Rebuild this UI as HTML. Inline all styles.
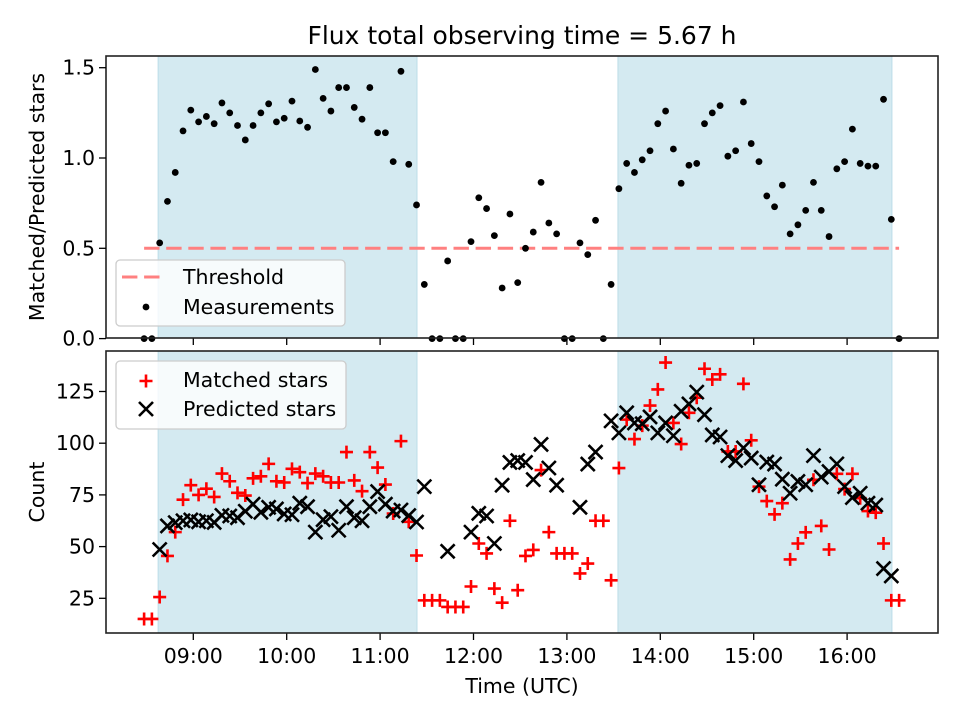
<!DOCTYPE html>
<html><head><meta charset="utf-8"><style>
html,body{margin:0;padding:0;background:#fff}
svg{display:block;font-family:"DejaVu Sans","Liberation Sans",sans-serif}
</style></head><body>
<svg id="chart" width="960" height="720" viewBox="0 0 960 720">
<text x="522" y="44" font-size="25" text-anchor="middle">Flux total observing time = 5.67 h</text>
<g id="top"></g>
<g id="bot"></g>
<text x="522" y="693" font-size="20.5" text-anchor="middle">Time (UTC)</text>
<text transform="translate(44,197) rotate(-90)" font-size="20.5" text-anchor="middle">Matched/Predicted stars</text>
<text transform="translate(44,492) rotate(-90)" font-size="20.5" text-anchor="middle">Count</text>
</svg>
<script>
const startMinute = 508.4;
const cadenceMinutes = 5;
const ratio = [0,0,.53,.76,.92,1.15,1.265,1.20,1.23,1.19,1.305,1.25,1.18,1.10,1.18,1.25,1.30,1.20,1.22,1.315,1.205,1.17,1.49,1.33,1.26,1.39,1.39,1.28,1.215,1.39,1.14,1.14,.98,1.48,.965,.74,.30,0,0,.43,0,0,.537,.78,.72,.57,.28,.69,.31,.50,.59,.865,.64,.58,0,0,.53,.465,.655,0,.30,.83,.97,.92,.99,1.04,1.19,1.26,1.05,.86,.96,.97,1.19,1.25,1.29,1.01,1.04,1.31,1.08,.98,.79,.73,.85,.58,.63,.71,.865,.71,.565,.94,.98,1.16,.97,.955,.955,1.325,.66,0];
const matched = [15,15,25.6,45.5,57,72.7,79.7,75,78,74,85.3,81.6,76,74.7,83,84,90,81.6,81,87.6,86,80.7,85.3,84,81,81,95.7,82,76.8,95.7,88.2,80,66,101,62,45.7,24,24,24,20.8,20.8,20.8,30.7,51.5,46.7,29.7,22.9,62.5,28.9,45.5,48.4,87,57,46.7,46.7,46.7,37,41.8,62.5,62.5,33.7,88,111.4,102,108.5,118.2,126,139,109.8,99.6,114.7,122,136,130.8,133.3,96,96,128.7,101.4,79,72,65.6,71,43.8,51.5,56.9,82.3,60,48.6,85.2,77.8,85.2,73.4,67.2,66.4,51.5,24,24];
const predicted = [null,null,48.6,60,61.6,62.5,62.9,62,62.5,61.7,65.1,64.8,64,67.1,70.5,66.6,69,68.2,65.8,65.4,71,69.3,57,63,64.5,57.9,69.3,64,62.5,69.3,76.6,70.5,67.2,67.7,65,61.9,79,null,null,47.7,null,null,57,66.1,64.8,51.5,79.7,90.7,91.6,90.7,82.4,99.4,88,79.7,null,null,69,89.9,95.7,null,110.8,105,114.7,109.8,109.4,112.7,105,109.8,103.6,115.4,119,124.7,113.8,104,103,94,91.6,97.7,92.8,79.9,90.9,89.9,82.6,75.8,81.5,79.9,94,83.6,86.3,90,79,73.7,75.8,71,70.1,39.4,35.8,null];
const spans = [[517.4,683.7],[812.8,988.8]];
const threshold = 0.5;
const xTickMinutes = [540,600,660,720,780,840,900,960];
const xTickLabels = ["09:00","10:00","11:00","12:00","13:00","14:00","15:00","16:00"];
const topTicks = [0,0.5,1.0,1.5];
const topTickLabels = ["0.0","0.5","1.0","1.5"];
const botTicks = [25,50,75,100,125];
const botTickLabels = ["25","50","75","100","125"];

const NS="http://www.w3.org/2000/svg";
const L=106,R=938;
const T1=56,B1=338,T2=351,B2=633;
const xs=t=>193.3+(t-540)*(93.4/60);
const yTop=v=>338.6-v*180.6;
const yBot=v=>598.3-(v-25)*2.068;
function el(p,tag,a){const e=document.createElementNS(NS,tag);for(const k in a)e.setAttribute(k,a[k]);p.appendChild(e);return e;}
const times=ratio.map((_,i)=>startMinute+cadenceMinutes*i);

function panel(g,T,B,name){
  spans.forEach((s,i)=>{
    const r=el(g,'rect',{x:xs(s[0]),y:T,width:xs(s[1])-xs(s[0]),height:B-T,fill:'#d4eaf1',stroke:'#bcdde8','stroke-width':1});
    
    
  });
  xTickMinutes.forEach((t,i)=>{
    const l=el(g,'line',{x1:xs(t),x2:xs(t),y1:B,y2:B+7,stroke:'#000','stroke-width':1.3});
    
    
  });
}
function frame(g,T,B,name){
  const f=el(g,'rect',{x:L,y:T,width:R-L,height:B-T,fill:'none',stroke:'#222','stroke-width':1.6});
  
  
}
function ytick(g,y,label,name){
  el(g,'line',{x1:L-7,x2:L,y1:y,y2:y,stroke:'#000','stroke-width':1.3});
  const t=el(g,'text',{x:L-11,y:y+7,'font-size':20.5,'text-anchor':'end'});
  t.textContent=label;
  
  
}
function plus(g,x,y){
  return el(g,'path',{d:`M${x-6.5} ${y}H${x+6.5}M${x} ${y-6.5}V${y+6.5}`,stroke:'#ff0000','stroke-width':2.6,fill:'none'});
}
function cross(g,x,y){
  return el(g,'path',{d:`M${x-7} ${y-7}L${x+7} ${y+7}M${x-7} ${y+7}L${x+7} ${y-7}`,stroke:'#000','stroke-width':2.6,fill:'none'});
}

const gt=document.getElementById('top');
panel(gt,T1,B1,'top');
const th=el(gt,'line',{x1:xs(times[0]),x2:xs(times[times.length-1]),y1:yTop(threshold),y2:yTop(threshold),stroke:'#ff8080','stroke-width':3,'stroke-dasharray':'15.4 6.7'});


ratio.forEach((v,i)=>{
  const c=el(gt,'circle',{cx:xs(times[i]),cy:yTop(v),r:3.4,fill:'#000'});
  
  
});
frame(gt,T1,B1,'top');
topTicks.forEach((v,i)=>ytick(gt,yTop(v),topTickLabels[i],'top-y-tick-label'));

const gb=document.getElementById('bot');
panel(gb,T2,B2,'bottom');
matched.forEach((v,i)=>{
  const p=plus(gb,xs(times[i]),yBot(v));
  
  
});
predicted.forEach((v,i)=>{
  if(v===null)return;
  const p=cross(gb,xs(times[i]),yBot(v));
  
  
});
frame(gb,T2,B2,'bottom');
botTicks.forEach((v,i)=>ytick(gb,yBot(v),botTickLabels[i],'bottom-y-tick-label'));
xTickMinutes.forEach((t,i)=>{
  const tx=el(gb,'text',{x:xs(t),y:B2+30,'font-size':20.5,'text-anchor':'middle'});
  tx.textContent=xTickLabels[i];
  
  
});

const lg1=el(gt,'g',{});


el(lg1,'rect',{x:116,y:260,width:229,height:66,rx:4,fill:'#fff','fill-opacity':0.8,stroke:'#ccc','stroke-width':1.3});
el(lg1,'line',{x1:122,x2:166,y1:277,y2:277,stroke:'#ff8080','stroke-width':3,'stroke-dasharray':'15.4 6.7'});
let t=el(lg1,'text',{x:183,y:284,'font-size':20.5});t.textContent='Threshold';


el(lg1,'circle',{cx:146,cy:307,r:3.4,fill:'#000'});
t=el(lg1,'text',{x:183,y:314,'font-size':20.5});t.textContent='Measurements';



const lg2=el(gb,'g',{});


el(lg2,'rect',{x:116,y:361,width:230,height:68,rx:4,fill:'#fff','fill-opacity':0.8,stroke:'#ccc','stroke-width':1.3});
plus(lg2,146,381);
t=el(lg2,'text',{x:183,y:387,'font-size':20.5});t.textContent='Matched stars';


cross(lg2,146,409);
t=el(lg2,'text',{x:183,y:416,'font-size':20.5});t.textContent='Predicted stars';


</script>
</body></html>
